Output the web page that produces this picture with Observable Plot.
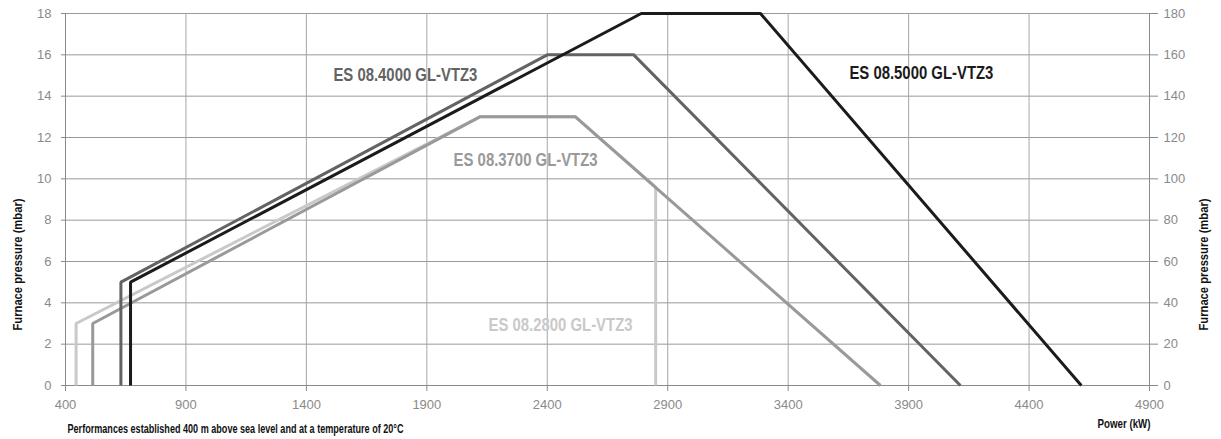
<!DOCTYPE html>
<html><head><meta charset="utf-8">
<script src="https://cdn.jsdelivr.net/npm/d3@7"></script>
<script src="https://cdn.jsdelivr.net/npm/@observablehq/plot@0.6"></script>
<style>
body{margin:0;background:#fff;}
#chart svg{display:block;}
</style></head><body><div id="chart"></div>
<script>
// ---- data ----
const powerTicks = [400, 900, 1400, 1900, 2400, 2900, 3400, 3900, 4400, 4900];
const pressureTicks = [0, 2, 4, 6, 8, 10, 12, 14, 16, 18];
const models = ["ES 08.2800 GL-VTZ3", "ES 08.3700 GL-VTZ3", "ES 08.4000 GL-VTZ3", "ES 08.5000 GL-VTZ3"];
const power2800 = [444, 444, 2120, 2517, 2850, 2850];
const pressure2800 = [0, 3, 13, 13, 9.6, 0];
const power3700 = [513, 513, 2120, 2517, 3783];
const pressure3700 = [0, 3, 13, 13, 0];
const power4000 = [630, 630, 2400, 2759, 4115];
const pressure4000 = [0, 5, 16, 16, 0];
const power5000 = [670, 670, 2790, 3285, 4617];
const pressure5000 = [0, 5, 18, 18, 0];
const labelPower = [2455, 2310, 1811, 3953];
const labelPressure = [2.9, 10.9, 15.0, 15.1];
const colors = ["#c9c9c9", "#999999", "#636363", "#1b1b1b"];
const yTitle = "Furnace pressure (mbar)";
const xTitle = "Power (kW)";
const note = "Performances established 400 m above sea level and at a temperature of 20°C";

const powers = [power2800, power3700, power4000, power5000];
const pressures = [pressure2800, pressure3700, pressure4000, pressure5000];
const rows = [];
models.forEach((m, i) => powers[i].forEach((p, j) => rows.push({model: m, power: p, pressure: pressures[i][j]})));
const labels = models.map((m, i) => ({model: m, power: labelPower[i], pressure: labelPressure[i]}));

const font = "'Liberation Sans', Arial, sans-serif";

const chart = Plot.plot({
  width: 1221,
  height: 439,
  marginLeft: 65,
  marginRight: 72,
  marginTop: 13,
  marginBottom: 54,
  style: {fontFamily: font, fontSize: "13px", background: "#fff"},
  x: {domain: [400, 4900]},
  y: {domain: [0, 18]},
  color: {domain: models, range: colors},
  marks: [
    Plot.gridY(pressureTicks, {stroke: "#999999", strokeOpacity: 1}),
    Plot.gridX(powerTicks.slice(1, -1), {stroke: "#a6a6a6", strokeOpacity: 1}),
    Plot.axisY(pressureTicks, {anchor: "left", tickSize: 4, tickPadding: 10, stroke: "#8a8a8a", fill: "#8a8a8a", label: null}),
    Plot.axisY(pressureTicks, {anchor: "right", tickSize: 8, tickPadding: 6, stroke: "#8a8a8a", fill: "#8a8a8a", label: null, tickFormat: d => String(d * 10)}),
    Plot.axisX(powerTicks, {anchor: "bottom", tickSize: 6, tickPadding: 8, stroke: "#8a8a8a", fill: "#8a8a8a", label: null, tickFormat: d => String(d)}),
    Plot.ruleX([400, 4900], {stroke: "#8a8a8a"}),
    Plot.ruleY([0], {stroke: "#8a8a8a"}),
    Plot.line(rows, {x: "power", y: "pressure", z: "model", stroke: "model", strokeWidth: 3, strokeLinejoin: "miter", strokeLinecap: "butt"}),
    Plot.text(labels, {x: "power", y: "pressure", text: "model", fill: "model", fontWeight: "bold", fontSize: 18}),
    Plot.text([yTitle], {frameAnchor: "left", textAnchor: "middle", dx: -48, dy: 65, rotate: -90, fontWeight: "bold", fontSize: 13, fill: "#111"}),
    Plot.text([yTitle], {frameAnchor: "right", textAnchor: "middle", dx: 54, dy: 65, rotate: -90, fontWeight: "bold", fontSize: 13, fill: "#111"}),
    Plot.text([xTitle], {frameAnchor: "bottom-right", dx: 1, dy: 42, textAnchor: "end", fontWeight: "bold", fontSize: 12.5, fill: "#111"}),
    Plot.text([note], {frameAnchor: "bottom-left", dx: 2, dy: 47, textAnchor: "start", fontWeight: "bold", fontSize: 12.5, fill: "#111"})
  ]
});

// emulate the condensed typeface of the original by fitting text widths
const fitWidths = new Map([
  ...models.map(m => [m, 144]),
  [yTitle, 132],
  [xTitle, 53],
  [note, 336]
]);
d3.select(chart).selectAll("text").each(function () {
  const w = fitWidths.get(this.textContent);
  if (w) {
    this.setAttribute("textLength", w);
    this.setAttribute("lengthAdjust", "spacingAndGlyphs");
  }
});
document.getElementById("chart").appendChild(chart);
</script></body></html>
